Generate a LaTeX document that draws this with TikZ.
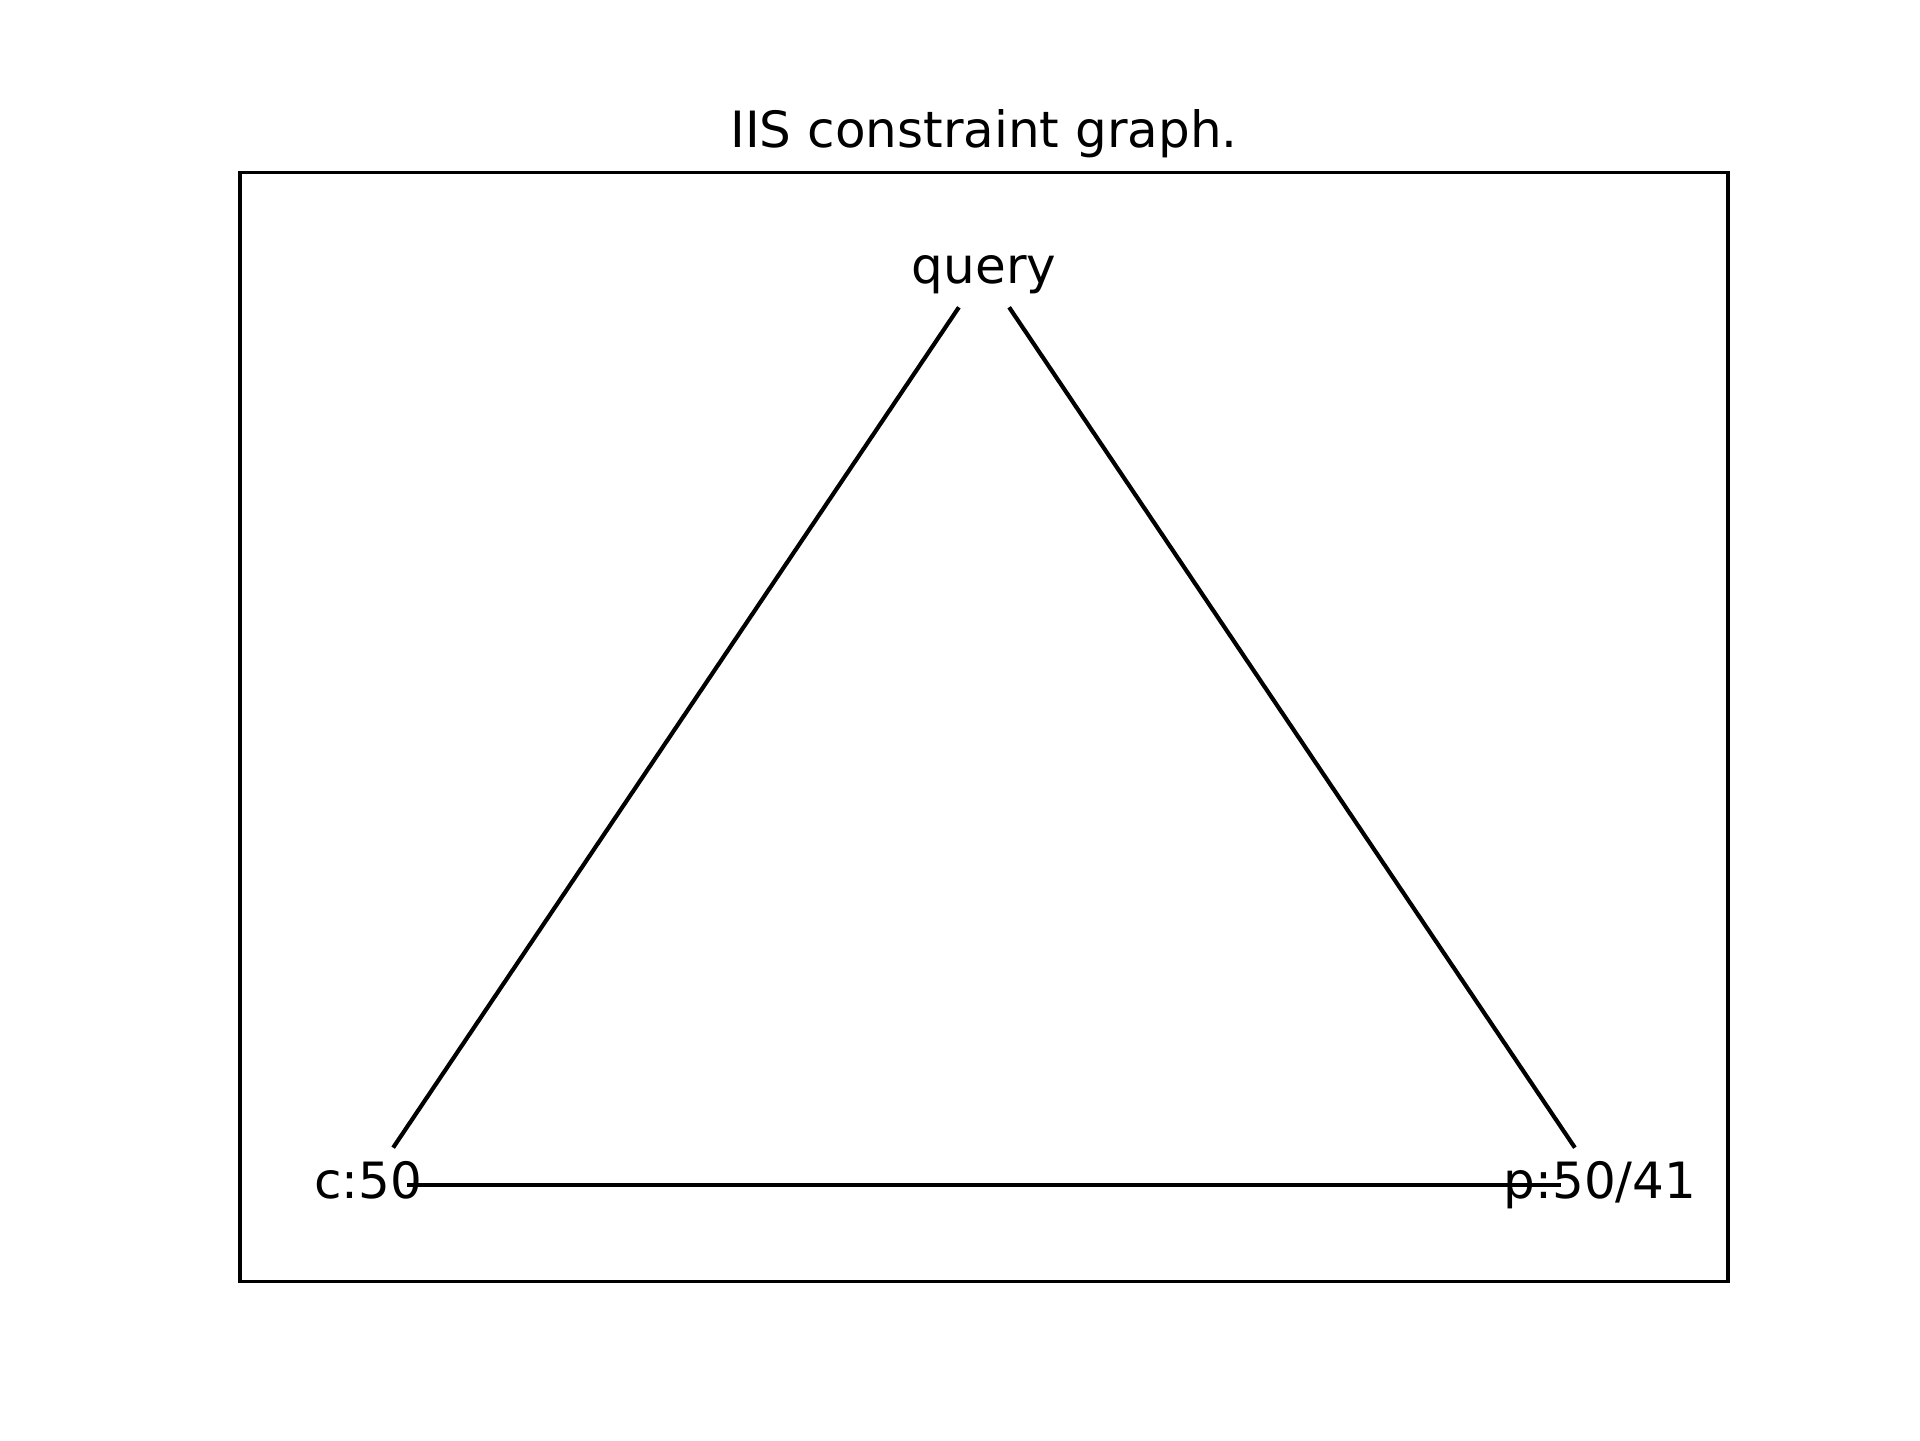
\documentclass[tikz,border=0pt]{standalone}
\usepackage{fontspec}
\setmainfont{DejaVu Sans}
\usetikzlibrary{positioning}

\begin{document}
\begin{tikzpicture}[x=1in,y=1in,
	vtx/.style={inner sep=0pt, font=\fontsize{12bp}{14bp}\selectfont, text height=9.36bp, text depth=2.64bp},
	edge/.style={line width=1bp, shorten <=0.15in, shorten >=0.15in}]
	\useasboundingbox (0,0) rectangle (6.4,4.8);
	\draw[line width=0.8bp] (0.8,0.528) rectangle (5.76,4.224);
	\node (title) [anchor=base, inner sep=0pt, font=\fontsize{12bp}{14bp}\selectfont] at (3.28,4.307) {IIS constraint graph.};
	\path (3.28,3.9) node (query) [vtx] {query}
		  (1.2267,0.85) node (c50) [vtx] {c:50}
		  (5.3333,0.85) node (p5041) [vtx] {p:50/41};
	\draw[edge] (query.center) -- (c50.center);
	\draw[edge] (query.center) -- (p5041.center);
	\draw[edge, shorten <=0.13in, shorten >=0.13in] (c50.center) -- (p5041.center);
\end{tikzpicture}
\end{document}
